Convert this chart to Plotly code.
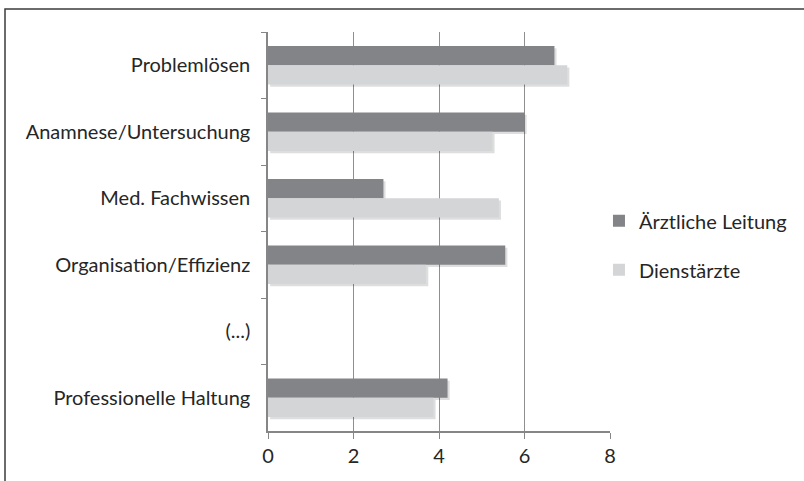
import plotly.graph_objects as go

# Kompetenzbereiche (von oben nach unten) und Bewertungen der beiden Gruppen
categories = ["Problemlösen", "Anamnese/Untersuchung", "Med. Fachwissen",
              "Organisation/Effizienz", "(...)", "Professionelle Haltung"]
leitung = [6.7, 6.0, 2.7, 5.55, None, 4.2]
dienstaerzte = [7.0, 5.25, 5.4, 3.7, None, 3.87]
x_ticks = [0, 2, 4, 6, 8]

FONT = "Lato, 'Open Sans', sans-serif"
DARK = "#838487"
LIGHT = "#d4d5d7"
SHADOW = "rgba(0,0,0,0.13)"
BAR_W = 0.29
FS = 20

fig = go.Figure()

# weiche Schatten unter den Balken
for vals, off in [(leitung, -BAR_W), (dienstaerzte, 0.0)]:
    fig.add_trace(go.Bar(
        y=categories, x=vals, orientation="h", base=0.05,
        offset=off + 0.035, width=BAR_W, marker=dict(color=SHADOW, line=dict(width=0)),
        showlegend=False, hoverinfo="skip"))

fig.add_trace(go.Bar(
    y=categories, x=leitung, orientation="h", name="Ärztliche Leitung",
    offset=-BAR_W, width=BAR_W, legendgroup="a",
    marker=dict(color=DARK, line=dict(width=0))))
fig.add_trace(go.Bar(
    y=categories, x=dienstaerzte, orientation="h", name="Dienstärzte",
    offset=0.0, width=BAR_W, legendgroup="b",
    marker=dict(color=LIGHT, line=dict(width=0))))

fig.update_layout(
    width=804, height=481,
    margin=dict(l=268, r=194, t=32, b=50, autoexpand=False),
    paper_bgcolor="white", plot_bgcolor="white",
    barmode="overlay",
    font=dict(family=FONT, size=FS, color="#262626"),
    showlegend=True,
    legend=dict(xref="container", yref="container", x=0.745, y=0.49,
                xanchor="left", yanchor="middle",
                tracegroupgap=20, font=dict(size=FS, color="#262626"),
                itemwidth=30, bgcolor="rgba(0,0,0,0)"),
    xaxis=dict(range=[0, 8], tickvals=x_ticks, showgrid=True,
               gridcolor="#8f8f8f", gridwidth=1, zeroline=False,
               showline=True, linecolor="#868686", linewidth=1.5,
               ticks="outside", ticklen=6, tickcolor="#868686",
               tickfont=dict(size=FS)),
    yaxis=dict(categoryorder="array", categoryarray=categories,
               autorange="reversed", showgrid=False, zeroline=False,
               showline=True, linecolor="#868686", linewidth=1.5,
               ticks="outside", ticklen=5, tickcolor="#868686",
               tickson="boundaries", ticklabelstandoff=12,
               tickfont=dict(size=FS)),
)

# Rahmen um das Diagramm
fig.add_shape(type="rect", xref="paper", yref="paper",
              x0=-0.769, x1=1.6, y0=-0.16, y1=1.0576,
              line=dict(color="#3c3c3c", width=1.5), layer="below")

fig.write_html("out.html")
